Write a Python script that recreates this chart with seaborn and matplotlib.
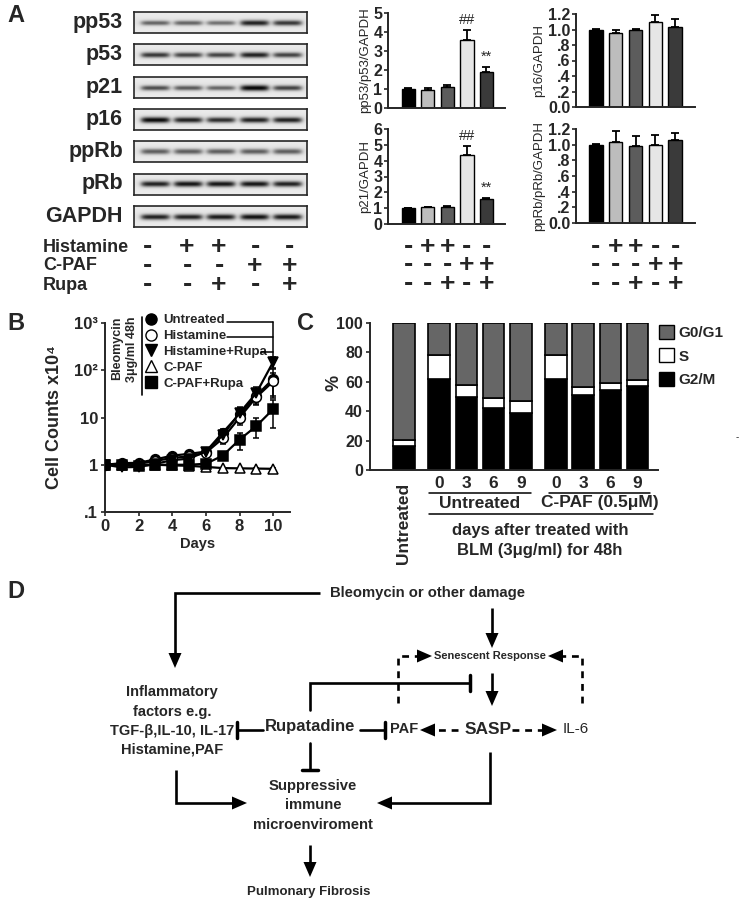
import numpy as np
import matplotlib
matplotlib.use('Agg')
import matplotlib.pyplot as plt
from matplotlib.transforms import blended_transform_factory
from matplotlib.patches import Patch
from matplotlib.lines import Line2D
import seaborn as sns

sns.set_style('ticks')
plt.rcParams['font.family'] = ['Liberation Sans', 'DejaVu Sans']
plt.rcParams['axes.linewidth'] = 1.4

W, H = 746, 907

# ---------------- data ----------------
blot_rows = ['pp53', 'p53', 'p21', 'p16', 'ppRb', 'pRb', 'GAPDH']
# band darkness per lane (0 = no band, 1 = black)
blot_pp53 = [0.55, 0.55, 0.5, 0.85, 0.75]
blot_p53 = [0.75, 0.7, 0.7, 0.85, 0.7]
blot_p21 = [0.65, 0.6, 0.55, 0.97, 0.7]
blot_p16 = [0.95, 0.85, 0.8, 0.85, 0.85]
blot_ppRb = [0.6, 0.6, 0.6, 0.6, 0.6]
blot_pRb = [0.85, 0.9, 0.9, 0.9, 0.85]
blot_gapdh = [0.85, 0.85, 0.88, 0.92, 0.88]

treat_names = ['Histamine', 'C-PAF', 'Rupa']
histamine_signs = ['-', '+', '+', '-', '-']
cpaf_signs = ['-', '-', '-', '+', '+']
rupa_signs = ['-', '-', '+', '-', '+']

groups = ['ctrl', 'his', 'his_rupa', 'cpaf', 'cpaf_rupa']
bar_colors = ['#000000', '#bdbdbd', '#5c5c5c', '#e6e6e6', '#3a3a3a']

pp53_mean = [1.0, 0.97, 1.1, 3.6, 1.9]
pp53_err = [0.05, 0.1, 0.12, 0.5, 0.28]
p21_mean = [1.0, 1.05, 1.08, 4.35, 1.55]
p21_err = [0.03, 0.05, 0.06, 0.6, 0.12]
p16_mean = [1.0, 0.95, 0.99, 1.1, 1.03]
p16_err = [0.01, 0.05, 0.02, 0.09, 0.11]
pprb_mean = [1.0, 1.03, 0.98, 0.99, 1.06]
pprb_err = [0.01, 0.15, 0.13, 0.13, 0.09]

days = [0, 1, 2, 3, 4, 5, 6, 7, 8, 9, 10]
untreated = [1.0, 1.08, 1.1, 1.3, 1.56, 1.7, 1.9, 4.8, 11.8, 29, 66]
untreated_err = [0.02, 0.03, 0.04, 0.05, 0.1, 0.1, 0.2, 0.8, 4, 10, 40]
histamine = [1.0, 1.02, 1.05, 1.2, 1.4, 1.5, 1.8, 3.6, 10, 27, 58]
histamine_err = [0.02, 0.03, 0.04, 0.05, 0.1, 0.1, 0.2, 0.8, 3, 9, 30]
his_rupa = [1.0, 0.88, 0.9, 1.05, 1.25, 1.35, 1.9, 4.2, 12.5, 33, 150]
his_rupa_err = [0.02, 0.03, 0.04, 0.05, 0.1, 0.1, 0.2, 0.8, 4, 12, 40]
cpaf = [1.0, 1.0, 1.0, 1.0, 0.97, 0.95, 0.9, 0.85, 0.84, 0.83, 0.82]
cpaf_err = [0.02, 0.02, 0.02, 0.02, 0.02, 0.02, 0.02, 0.02, 0.02, 0.02, 0.02]
cpaf_rupa = [1.0, 1.0, 0.95, 1.0, 1.0, 1.0, 1.05, 1.56, 3.4, 6.6, 15]
cpaf_rupa_err = [0.02, 0.02, 0.03, 0.03, 0.05, 0.05, 0.1, 0.25, 1.3, 3, 9]

cycle_labels = ['Untreated', '0', '3', '6', '9', '0', '3', '6', '9']
cycle_pos = [0, 1.3, 2.3, 3.3, 4.3, 5.6, 6.6, 7.6, 8.6]
g2m = [16.4, 62, 49.5, 42.5, 38.6, 62, 50.9, 54.5, 57.3]
s_phase = [4.1, 16.4, 8.0, 6.4, 8.0, 16.4, 5.9, 5.0, 4.1]
g0g1 = [79.5, 21.6, 42.5, 51.1, 53.4, 21.6, 43.2, 40.5, 38.6]

fig = plt.figure(figsize=(W / 100, H / 100), dpi=100)


def px_axes(x0, y0, x1, y1):
    return fig.add_axes([x0 / W, 1 - y1 / H, (x1 - x0) / W, (y1 - y0) / H])


ov = fig.add_axes([0, 0, 1, 1], zorder=5)
ov.set_xlim(0, W)
ov.set_ylim(H, 0)
ov.axis('off')
ov.patch.set_alpha(0)

# panel letters
for lab, x, y in [('A', 16, 16), ('B', 16, 323), ('C', 306, 323), ('D', 16, 592)]:
    ov.text(x, y, lab, fontsize=17, fontweight='bold', ha='center', va='center')

# ---------------- A: blots ----------------
blot_vals = [blot_pp53, blot_p53, blot_p21, blot_p16, blot_ppRb, blot_pRb, blot_gapdh]
lane_x = [155, 188, 221, 255, 288]
bx0, bx1 = 134, 307
for i, (name, vals) in enumerate(zip(blot_rows, blot_vals)):
    top = 12 + i * 32.3
    axb = px_axes(bx0, top, bx1, top + 21)
    nx, ny = 174, 21
    xx, yy = np.meshgrid(np.arange(nx), np.arange(ny))
    img = np.full((ny, nx), 0.92) - 0.04 * np.exp(-((yy - 10) / 5.0) ** 2)
    for lx, d in zip(lane_x, vals):
        cx = lx - bx0
        prof = np.exp(-((yy - 10.5) / (1.6 + 1.4 * d)) ** 2) * np.exp(-((xx - cx) / 14.5) ** 6)
        img = img - 0.88 * d * prof
    axb.imshow(np.clip(img, 0, 1), cmap='gray', vmin=0, vmax=1, aspect='auto')
    axb.set_xticks([])
    axb.set_yticks([])
    for sp in axb.spines.values():
        sp.set_linewidth(1.2)
    ov.text(123, top + 10.5, name, fontsize=15.5, fontweight='bold', ha='right', va='center')


def sign(x, y, s, transform):
    # bold +/- signs as in the figure
    ov.text(x, y, s, transform=transform, fontsize=19 if s == '+' else 20, fontweight='bold',
            ha='center', va='center', clip_on=False)


sign_x = [147, 187, 219, 255, 290]
for row, (nm, signs) in enumerate(zip(treat_names, [histamine_signs, cpaf_signs, rupa_signs])):
    y = 247 + row * 19
    ov.text(43, y, nm, fontsize=13, fontweight='bold', ha='left', va='center')
    for sx, s in zip(sign_x, signs):
        sign(sx, y, s, ov.transData)

# ---------------- A: bar charts ----------------
def bar_chart(box, means, errs, ymax, yticks, yticklabels, ylabel, xlim, marks=None):
    ax = px_axes(*box)
    sns.barplot(x=groups, y=means, hue=groups, palette=bar_colors, legend=False,
                width=0.68, edgecolor='black', linewidth=1.0, ax=ax)
    ax.errorbar(range(5), means, yerr=[np.zeros(5), errs], fmt='none',
                ecolor='black', elinewidth=1.3, capsize=3, capthick=1.3)
    ax.set_xlim(*xlim)
    ax.set_ylim(0, ymax)
    ax.set_yticks(yticks)
    ax.set_yticklabels(yticklabels, fontsize=11.5, fontweight='bold')
    ax.set_xticks([])
    ax.set_xlabel('')
    ax.set_ylabel(ylabel, fontsize=9.5, labelpad=2)
    ax.tick_params(axis='y', length=3, width=1.2, pad=1)
    sns.despine(ax=ax)
    if marks:
        for idx, txt in marks:
            ax.text(idx, means[idx] + errs[idx] + ymax * 0.03, txt, ha='center', va='bottom',
                    fontsize=10.5)
    return ax


ax1 = bar_chart((388, 13, 505, 108), pp53_mean, pp53_err, 5, range(6), [str(v) for v in range(6)],
                'pp53/p53/GAPDH', (-1.03, 4.95), [(3, '##'), (4, '**')])
ax2 = bar_chart((388, 129, 505, 224), p21_mean, p21_err, 6, range(7), [str(v) for v in range(7)],
                'p21/GAPDH', (-1.03, 4.95), [(3, '##'), (4, '**')])
p16_ticks = [0, 0.2, 0.4, 0.6, 0.8, 1.0, 1.2]
p16_labels = ['0.0', '.2', '.4', '.6', '.8', '1.0', '1.2']
ax3 = bar_chart((576, 14, 695, 107), p16_mean, p16_err, 1.2, p16_ticks, p16_labels,
                'p16/GAPDH', (-1.0, 5.0))
ax4 = bar_chart((576, 129, 695, 223), pprb_mean, pprb_err, 1.2, p16_ticks, p16_labels,
                'ppRb/pRb/GAPDH', (-1.0, 5.0))

for axc in (ax2, ax4):
    tr = blended_transform_factory(axc.transData, ov.transData)
    for row, signs in enumerate([histamine_signs, cpaf_signs, rupa_signs]):
        for i, s in enumerate(signs):
            sign(i, 247 + row * 18.5, s, tr)

# ---------------- B: growth curves ----------------
axB = px_axes(105, 323, 290, 512)
series = [('Untreated', untreated, untreated_err, 'o', 'black'),
          ('Histamine', histamine, histamine_err, 'o', 'white'),
          ('Histamine+Rupa', his_rupa, his_rupa_err, 'v', 'black'),
          ('C-PAF', cpaf, cpaf_err, '^', 'white'),
          ('C-PAF+Rupa', cpaf_rupa, cpaf_rupa_err, 's', 'black')]
handles = []
for name, vals, err, mk, fc in series:
    axB.errorbar(days, vals, yerr=err, fmt='none', ecolor='black', elinewidth=1.1, capsize=2.5,
                 capthick=1.1, zorder=2)
    sns.lineplot(x=days, y=vals, ax=axB, color='black', linewidth=1.6, marker=mk, markersize=7,
                 markerfacecolor=fc, markeredgecolor='black', markeredgewidth=1.1, zorder=3)
    handles.append(Line2D([], [], color='black', linestyle='none', marker=mk, markersize=8,
                          markerfacecolor=fc, markeredgecolor='black', label=name))
axB.set_yscale('log')
axB.set_ylim(0.1, 1000)
axB.set_xlim(0, 11)
axB.set_xticks([0, 2, 4, 6, 8, 10])
axB.set_xticklabels(['0', '2', '4', '6', '8', '10'], fontsize=12, fontweight='bold')
axB.set_yticks([0.1, 1, 10, 100, 1000])
axB.set_yticklabels(['.1', '1', '10', '10²', '10³'], fontsize=12, fontweight='bold')
axB.minorticks_off()
axB.tick_params(length=3, width=1.2, pad=2)
axB.set_xlabel('Days', fontsize=10.5, fontweight='bold', labelpad=2)
axB.set_ylabel('Cell Counts x10⁴', fontsize=13, fontweight='bold', labelpad=8)
sns.despine(ax=axB)
leg = axB.legend(handles=handles, loc='upper left', bbox_to_anchor=(146 / W, 1 - 314 / H),
                 bbox_transform=fig.transFigure, frameon=False,
                 prop={'weight': 'bold', 'size': 9.5}, handlelength=0.8, handletextpad=0.5,
                 labelspacing=0.28, borderpad=0, borderaxespad=0)
ov.text(117, 317, 'Bleomycin', rotation=90, fontsize=9, fontweight='bold', ha='center', va='top')
ov.text(132, 317, '3μg/ml 48h', rotation=90, fontsize=9, fontweight='bold', ha='center', va='top')
ov.plot([142, 142], [317, 395], color='black', lw=1.2)
for yy, x0 in [(322, 227), (337, 227), (352, 261)]:
    ov.plot([x0, 273], [yy, yy], color='black', lw=1.1)
ov.plot([273, 273], [322, 356], color='black', lw=1.1)

# ---------------- C: cell cycle ----------------
axC = px_axes(370, 323, 658, 470)
bw = 0.8
axC.bar(cycle_pos, g2m, width=bw, color='black', edgecolor='black', linewidth=1.2, label='G2/M')
axC.bar(cycle_pos, s_phase, width=bw, bottom=g2m, color='white', edgecolor='black', linewidth=1.2,
        label='S')
axC.bar(cycle_pos, g0g1, width=bw, bottom=np.add(g2m, s_phase), color='#666666', edgecolor='black',
        linewidth=1.2, label='G0/G1')
axC.set_xlim(-1.25, 9.35)
axC.set_ylim(0, 100)
axC.set_yticks(range(0, 101, 20))
axC.set_yticklabels([str(v) for v in range(0, 101, 20)], fontsize=11.5, fontweight='bold')
axC.set_xticks([])
axC.tick_params(axis='y', length=3, width=1.2, pad=2)
sns.despine(ax=axC)
ov.text(334, 383, '%', rotation=90, fontsize=13, fontweight='bold', ha='center', va='center')
hC = [Patch(facecolor='#666666', edgecolor='black', label='G0/G1'),
      Patch(facecolor='white', edgecolor='black', label='S'),
      Patch(facecolor='black', edgecolor='black', label='G2/M')]
axC.legend(handles=hC, loc='upper left', bbox_to_anchor=(659 / W, 1 - 325 / H),
           bbox_transform=fig.transFigure, frameon=False, prop={'weight': 'bold', 'size': 11},
           handlelength=1.0, handleheight=1.0, handletextpad=0.3, labelspacing=0.55,
           borderpad=0, borderaxespad=0)
trC = blended_transform_factory(axC.transData, ov.transData)
axC.text(cycle_pos[0], 483, cycle_labels[0], transform=trC, rotation=90, fontsize=12.5,
         fontweight='bold', ha='center', va='top', clip_on=False)
for p, lab in zip(cycle_pos[1:], cycle_labels[1:]):
    axC.text(p, 483, lab, transform=trC, fontsize=12.5, fontweight='bold', ha='center', va='center',
             clip_on=False)
axC.plot([0.92, 4.67], [493, 493], transform=trC, color='black', lw=1.1, clip_on=False)
axC.plot([5.33, 9.05], [493, 493], transform=trC, color='black', lw=1.1, clip_on=False)
axC.plot([0.92, 9.15], [514, 514], transform=trC, color='black', lw=1.1, clip_on=False)
axC.text(2.8, 503, 'Untreated', transform=trC, fontsize=12.5, fontweight='bold', ha='center',
         va='center', clip_on=False)
axC.text(7.2, 503, 'C-PAF (0.5μM)', transform=trC, fontsize=12.5, fontweight='bold', ha='center',
         va='center', clip_on=False)
ov.text(540, 530, 'days after treated with', fontsize=12, fontweight='bold', ha='center', va='center')
ov.text(540, 550, 'BLM (3μg/ml) for 48h', fontsize=12, fontweight='bold', ha='center', va='center')
ov.text(737, 437, '-', fontsize=7, ha='center', va='center')

# ---------------- D: schematic ----------------
LW = 1.9


def head(tip, d, L=15, w=6.5):
    tx, ty = tip
    dx, dy = d
    bx, by = tx - dx * L, ty - dy * L
    px, py = -dy, dx
    ov.fill([tx, bx + px * w, bx - px * w], [ty, by + py * w, by - py * w], color='black', lw=0)


def arrow(pts, dashed=False):
    xs, ys = zip(*pts)
    (x1, y1), (x2, y2) = pts[-2], pts[-1]
    n = np.hypot(x2 - x1, y2 - y1)
    d = ((x2 - x1) / n, (y2 - y1) / n)
    xs = list(xs)
    ys = list(ys)
    xs[-1] = x2 - d[0] * 12
    ys[-1] = y2 - d[1] * 12
    ov.plot(xs, ys, color='black', lw=LW, ls=(0, (2.6, 2.2)) if dashed else '-',
            solid_capstyle='butt', solid_joinstyle='miter')
    head((x2, y2), d)


def tbar(pts, half=8):
    xs, ys = zip(*pts)
    ov.plot(xs, ys, color='black', lw=LW, solid_joinstyle='miter')
    (x1, y1), (x2, y2) = pts[-2], pts[-1]
    if x1 == x2:
        ov.plot([x2 - half, x2 + half], [y2, y2], color='black', lw=LW + 0.6)
    else:
        ov.plot([x2, x2], [y2 - half, y2 + half], color='black', lw=LW + 0.6)


arrow([(320, 593), (175, 593), (175, 668)])
arrow([(492, 608), (492, 648)])
arrow([(398, 703), (398, 656), (432, 656)], dashed=True)
arrow([(582, 703), (582, 656), (548, 656)], dashed=True)
tbar([(310, 710), (310, 683), (470, 683)])
arrow([(492, 673), (492, 706)])
tbar([(263, 730), (237, 730)])
tbar([(360, 730), (385, 730)])
arrow([(458, 730), (420, 730)], dashed=True)
arrow([(512, 730), (557, 730)], dashed=True)
tbar([(310, 743), (310, 770)])
arrow([(176, 770), (176, 803), (247, 803)])
arrow([(490, 752), (490, 803), (377, 803)])
arrow([(310, 845), (310, 877)])

ov.text(427, 593, 'Bleomycin or other damage', fontsize=10.7, fontweight='bold', ha='center', va='center')
ov.text(490, 656, 'Senescent Response', fontsize=8, fontweight='bold', ha='center', va='center')
for yy, t in zip([692, 712, 731, 750], ['Inflammatory', 'factors e.g.', 'TGF-β,IL-10, IL-17',
                                        'Histamine,PAF']):
    ov.text(172, yy, t, fontsize=10.5, fontweight='bold', ha='center', va='center')
ov.text(310, 727, 'Rupatadine', fontsize=12, fontweight='bold', ha='center', va='center')
ov.text(404, 729, 'PAF', fontsize=10.5, fontweight='bold', ha='center', va='center')
ov.text(488, 729, 'SASP', fontsize=12.5, fontweight='bold', ha='center', va='center')
ov.text(576, 729, 'IL-6', fontsize=11, ha='center', va='center')
for yy, t in zip([786, 805, 825], ['Suppressive', 'immune', 'microenviroment']):
    ov.text(313, yy, t, fontsize=10.7, fontweight='bold', ha='center', va='center')
ov.text(309, 892, 'Pulmonary Fibrosis', fontsize=9.5, fontweight='bold', ha='center', va='center')

fig.savefig('out.png', dpi=100)
